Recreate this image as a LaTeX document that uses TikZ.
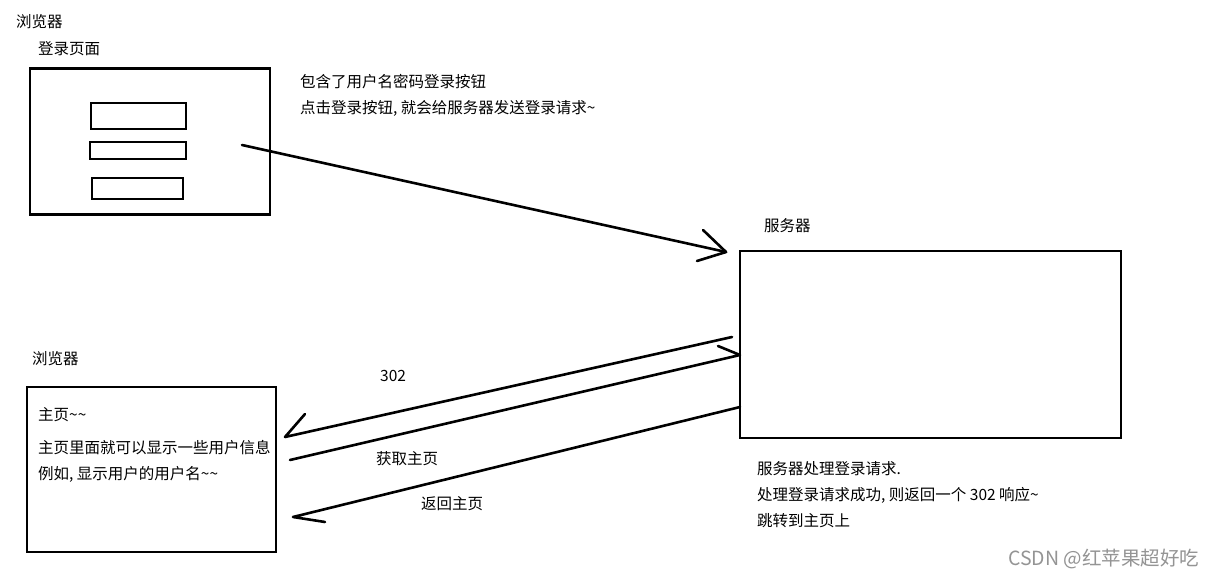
\documentclass[tikz,border=0pt]{standalone}
\usepackage{fontspec}
\setmainfont{Noto Sans CJK SC}
\newfontfamily\cjk{Noto Sans CJK SC}
\begin{document}
\begin{tikzpicture}[x=1pt,y=-1pt,
  lbl/.style={anchor=west,inner sep=0pt,font=\cjk\fontsize{15.5}{18}\selectfont},
  boxline/.style={draw=black,line width=2.6pt},
  conn/.style={draw=black,line width=2.6pt,line cap=round,line join=round}]
\useasboundingbox[fill=white] (0,0) rectangle (1216,578);
% login page browser
\node[lbl] (b1title) at (16,22) {浏览器};
\node[lbl] (logintitle) at (38,49) {登录页面};
\node[boxline,inner sep=0pt,minimum width=240pt,minimum height=146pt] (login) at (150,141.5) {};
\node[boxline,inner sep=0pt,minimum width=95pt,minimum height=26pt] (f1) at (138.5,116) {};
\node[boxline,inner sep=0pt,minimum width=96pt,minimum height=17pt] (f2) at (138,150.5) {};
\node[boxline,inner sep=0pt,minimum width=91pt,minimum height=21pt] (f3) at (137.5,188.5) {};
\node[lbl] (t1) at (300,82) {包含了用户名密码登录按钮};
\node[lbl] (t2) at (300,108) {点击登录按钮, 就会给服务器发送登录请求\textasciitilde};
% server
\node[lbl] (stitle) at (764,226) {服务器};
\node[boxline,inner sep=0pt,minimum width=381pt,minimum height=187pt] (server) at (930.5,344.5) {};
% home browser
\node[lbl] (b2title) at (32,359) {浏览器};
\node[boxline,inner sep=0pt,minimum width=249pt,minimum height=165pt] (home) at (151.5,469.5) {};
\node[lbl] (h1) at (38,415) {主页\textasciitilde\textasciitilde};
\node[lbl] (h2) at (38,448) {主页里面就可以显示一些用户信息};
\node[lbl] (h3) at (38,474) {例如, 显示用户的用户名\textasciitilde\textasciitilde};
% arrow endpoints
\coordinate (a1s) at (242,145);
\coordinate (a1e) at (726,252);
\coordinate (a1u) at (703,230);
\coordinate (a1d) at (697,261);
\coordinate (a2s) at (732,337);
\coordinate (a2e) at (285,437);
\coordinate (a2u) at (305,414);
\coordinate (a3s) at (290,460);
\coordinate (a3e) at (740,355);
\coordinate (a3u) at (718,346);
\coordinate (a4s) at (740,407);
\coordinate (a4e) at (293,517);
\coordinate (a4d) at (325,522);
\draw[conn] (a1s) -- (a1e);
\draw[conn] (a1u) -- (a1e) -- (a1d);
\draw[conn] (a2s) -- (a2e) -- (a2u);
\draw[conn] (a3s) -- (a3e) -- (a3u);
\draw[conn] (a4s) -- (a4e) -- (a4d);
\node[lbl] (l302) at (380,376) {302};
\node[lbl] (lget) at (376,459) {获取主页};
\node[lbl] (lret) at (421,504) {返回主页};
\node[lbl] (s1) at (757,469) {服务器处理登录请求.};
\node[lbl] (s2) at (757,495) {处理登录请求成功, 则返回一个 302 响应\textasciitilde};
\node[lbl] (s3) at (757,521) {跳转到主页上};
\node[anchor=west,inner sep=0pt,text=black!42,font=\cjk\fontsize{19.5}{22}\selectfont] (wm) at (1008,559) {CSDN @红苹果超好吃};
\end{tikzpicture}
\end{document}
